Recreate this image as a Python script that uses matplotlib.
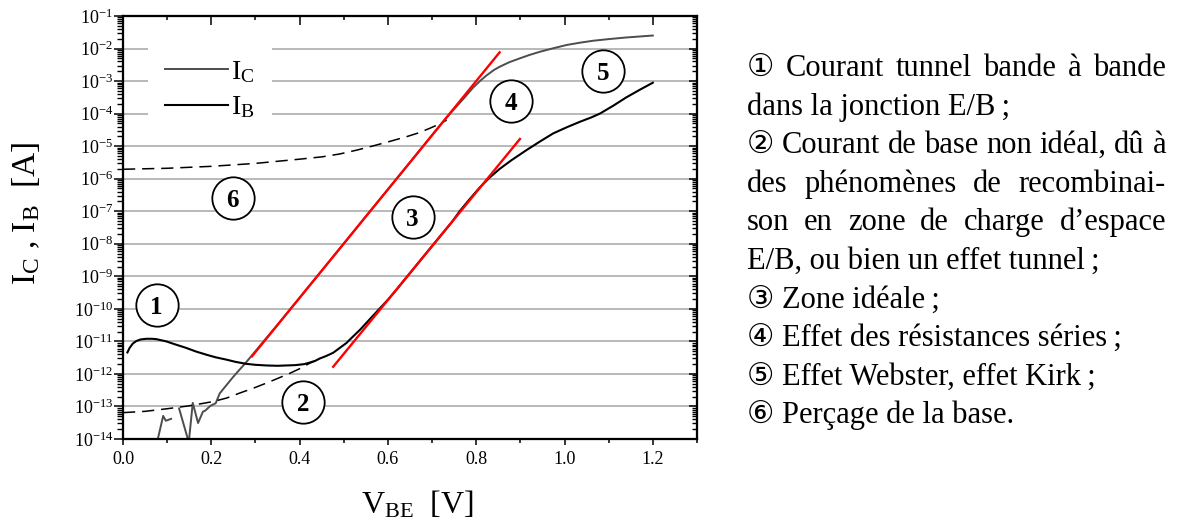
import numpy as np
import matplotlib
matplotlib.use("Agg")
import matplotlib.pyplot as plt
from matplotlib.ticker import MultipleLocator, FormatStrFormatter, LogLocator, NullFormatter

nan = float("nan")

# ---------------- data ----------------
V_C = [0.078, 0.091, 0.097, 0.109, 0.118, 0.127, 0.149, 0.158, 0.170, 0.181, 0.186,
       0.198, 0.210, 0.219, 0.249, 0.279, 0.35, 0.45, 0.55, 0.65, 0.70, 0.72, 0.733,
       0.75, 0.77, 0.793, 0.81, 0.823, 0.84, 0.853, 0.875, 0.899, 0.92, 0.944, 0.975,
       1.005, 1.035, 1.065, 1.10, 1.14, 1.17, 1.2]
logI_C = [-14.05, -13.29, -13.44, -13.38, nan, -13.06, -14.1, -12.89, -13.51, -13.16, -13.13,
          -12.98, -12.90, -12.60, -12.10, -11.64, -10.49, -8.83, -7.16, -5.50, -4.66, -4.33, -4.12,
          -3.86, -3.56, -3.20, -2.98, -2.83, -2.66, -2.56, -2.42, -2.30, -2.20, -2.10, -1.99,
          -1.89, -1.82, -1.76, -1.71, -1.66, -1.63, -1.60]

V_B = [0.010, 0.015, 0.022, 0.030, 0.040, 0.053, 0.065, 0.075, 0.098, 0.120, 0.143,
       0.165, 0.189, 0.210, 0.234, 0.255, 0.279, 0.300, 0.325, 0.350, 0.370, 0.390,
       0.410, 0.423, 0.435, 0.445, 0.460, 0.476, 0.491, 0.506, 0.521, 0.537, 0.552,
       0.567, 0.582, 0.600, 0.620, 0.650, 0.700, 0.720, 0.745, 0.763, 0.785, 0.808,
       0.830, 0.853, 0.880, 0.914, 0.944, 0.974, 1.005, 1.035, 1.060, 1.080, 1.110,
       1.140, 1.170, 1.200]
logI_B = [-11.34, -11.20, -11.07, -10.99, -10.94, -10.92, -10.92, -10.93, -11.00, -11.10, -11.20,
          -11.31, -11.41, -11.49, -11.56, -11.63, -11.69, -11.72, -11.74, -11.75, -11.74, -11.73,
          -11.70, -11.65, -11.60, -11.53, -11.45, -11.35, -11.20, -11.05, -10.85, -10.64, -10.42,
          -10.20, -9.98, -9.72, -9.40, -8.90, -8.07, -7.74, -7.33, -6.99, -6.63, -6.27,
          -5.97, -5.70, -5.43, -5.12, -4.86, -4.61, -4.42, -4.25, -4.12, -4.00, -3.76,
          -3.50, -3.27, -3.05]

V_fit_low = [0.0, 0.05, 0.10, 0.15, 0.204, 0.235, 0.264, 0.295, 0.325, 0.35, 0.378, 0.40, 0.423, 0.435]
logI_fit_low = [-13.19, -13.15, -13.07, -12.98, -12.85, -12.74, -12.59, -12.44, -12.28, -12.14,
                -11.98, -11.84, -11.67, -11.60]

V_fit_high = [0.0, 0.10, 0.20, 0.30, 0.40, 0.45, 0.491, 0.53, 0.567, 0.60, 0.642, 0.67, 0.695, 0.715, 0.733]
logI_fit_high = [-5.71, -5.68, -5.62, -5.53, -5.40, -5.33, -5.24, -5.12, -4.99, -4.87, -4.71,
                 -4.59, -4.45, -4.33, -4.20]

V_red1 = [0.292, 0.853]
logI_red1 = [-11.46, -2.116]
V_red2 = [0.476, 0.899]
logI_red2 = [-11.78, -4.78]

region_labels = ["1", "2", "3", "4", "5", "6"]
region_V = [0.076, 0.408, 0.656, 0.878, 1.087, 0.248]
region_logI = [-9.88, -12.85, -7.19, -3.61, -2.68, -6.58]

notes = [
    ("① Courant tunnel bande à bande", True),
    ("dans la jonction E/B\u2009;", False),
    ("② Courant de base non idéal, dû à", True),
    ("des phénomènes de recombinai-", True),
    ("son en zone de charge d’espace", True),
    ("E/B, ou bien un effet tunnel\u2009;", False),
    ("③ Zone idéale\u2009;", False),
    ("④ Effet des résistances séries\u2009;", False),
    ("⑤ Effet Webster, effet Kirk\u2009;", False),
    ("⑥ Perçage de la base.", False),
]

# ---------------- style ----------------
FAM = ["Liberation Serif", "DejaVu Sans"]
plt.rcParams["font.family"] = FAM
plt.rcParams["mathtext.fontset"] = "custom"
plt.rcParams["mathtext.rm"] = "Liberation Serif"
plt.rcParams["mathtext.it"] = "Liberation Serif:italic"
plt.rcParams["mathtext.bf"] = "Liberation Serif:bold"

W, H = 1182, 529
fig = plt.figure(figsize=(W / 100, H / 100), dpi=100)
ax = fig.add_axes([123 / W, 1 - 439 / H, 574 / W, 423 / H])

ax.set_yscale("log")
ax.set_xlim(0, 1.3)
ax.set_ylim(1e-14, 1e-1)

ax.set_axisbelow(True)
ax.yaxis.grid(True, which="major", color="#a6a6a6", lw=1.1)


def pw(vals):
    return [10 ** v for v in vals]


lc, = ax.plot(V_C, pw(logI_C), color="#4d4d4d", lw=1.4, label=r"I$_\mathrm{C}$", zorder=3)
lb, = ax.plot(V_B, pw(logI_B), color="black", lw=1.5, label=r"I$_\mathrm{B}$", zorder=3)
ax.plot(V_fit_low, pw(logI_fit_low), color="black", lw=1.1, dashes=(8, 4.5), zorder=3)
ax.plot(V_fit_high, pw(logI_fit_high), color="black", lw=1.1, dashes=(8, 4.5), zorder=3)
ax.plot(V_red1, pw(logI_red1), color="#ff0000", lw=1.7, zorder=4)
ax.plot(V_red2, pw(logI_red2), color="#ff0000", lw=1.7, zorder=4)

# circled region numbers
ax.plot(region_V, pw(region_logI), "o", ms=30.5, mfc="white",
        mec="black", mew=1.3, zorder=5, linestyle="none")
for lab, xv, lv in zip(region_labels, region_V, region_logI):
    ax.text(xv, 10 ** lv, lab, ha="center", va="center_baseline", fontsize=18,
            fontweight="bold", zorder=6)

# ticks
ax.xaxis.set_major_locator(MultipleLocator(0.2))
ax.xaxis.set_minor_locator(MultipleLocator(0.1))
ax.xaxis.set_major_formatter(FormatStrFormatter("%.1f"))
ax.yaxis.set_major_locator(LogLocator(base=10, numticks=20))
ax.yaxis.set_minor_locator(LogLocator(base=10, subs=np.arange(2, 10), numticks=20))
ax.yaxis.set_minor_formatter(NullFormatter())
ax.tick_params(axis="x", which="major", direction="out", length=4.5, width=1.1,
               labelsize=13, pad=4)
ax.tick_params(axis="x", which="minor", direction="out", length=2.8, width=1.1)
ax.tick_params(axis="y", which="major", direction="out", length=6.5, width=1.1,
               labelsize=13, pad=0.5)
ax.tick_params(axis="y", which="minor", direction="out", length=4.2, width=1.0)
for s in ax.spines.values():
    s.set_linewidth(1.5)

axt = ax.twiny()
axt.set_xlim(ax.get_xlim())
axt.xaxis.set_major_locator(MultipleLocator(0.2))
axt.xaxis.set_minor_locator(MultipleLocator(0.1))
axt.tick_params(axis="x", which="major", direction="in", length=6.5, width=1.1, labeltop=False)
axt.tick_params(axis="x", which="minor", direction="in", length=3.0, width=1.1)

axr = ax.twinx()
axr.set_yscale("log")
axr.set_ylim(ax.get_ylim())
axr.yaxis.set_major_locator(LogLocator(base=10, numticks=20))
axr.yaxis.set_minor_locator(LogLocator(base=10, subs=np.arange(2, 10), numticks=20))
axr.tick_params(axis="y", which="major", direction="in", length=5.5, width=1.1, labelright=False)
axr.tick_params(axis="y", which="minor", direction="in", length=3.8, width=1.0)
for a in (axt, axr):
    for s in a.spines.values():
        s.set_linewidth(1.5)

# legend
leg = ax.legend(handles=[lc, lb], loc="upper left", bbox_to_anchor=(0.044, 0.9385),
                fontsize=20, frameon=True, facecolor="white", edgecolor="none",
                framealpha=1.0, fancybox=False, handlelength=2.25, handletextpad=0.12,
                labelspacing=0.34, borderpad=0.62, borderaxespad=0.0)
leg.set_zorder(10)

# axis labels
fig.text(26 / W, 1 - 213 / H, r"I$_\mathrm{C}$ , I$_\mathrm{B}$  [A]", rotation=90,
         ha="center", va="center", fontsize=24)
fig.text(417 / W, 1 - 505 / H, r"V$_\mathrm{BE}$  [V]", ha="center", va="center",
         fontsize=23)

# right-hand notes (justified paragraph)
fig.canvas.draw()
renderer = fig.canvas.get_renderer()
FS = 22
x_left, x_right = 747, 1166
y0, dy = 76, 38.6


def width_px(s):
    t = fig.text(0, 0, s, fontsize=FS, family=FAM)
    w = t.get_window_extent(renderer).width
    t.remove()
    return w


for i, (line, just) in enumerate(notes):
    yb = 1 - (y0 + i * dy) / H
    if not just:
        fig.text(x_left / W, yb, line, fontsize=FS, family=FAM, ha="left", va="baseline")
        continue
    words = line.split(" ")
    widths = [width_px(w) for w in words]
    gap = (x_right - x_left - sum(widths)) / (len(words) - 1)
    x = x_left
    for w, wd in zip(words, widths):
        fig.text(x / W, yb, w, fontsize=FS, family=FAM, ha="left", va="baseline")
        x += wd + gap

fig.savefig("out.png", dpi=100)
